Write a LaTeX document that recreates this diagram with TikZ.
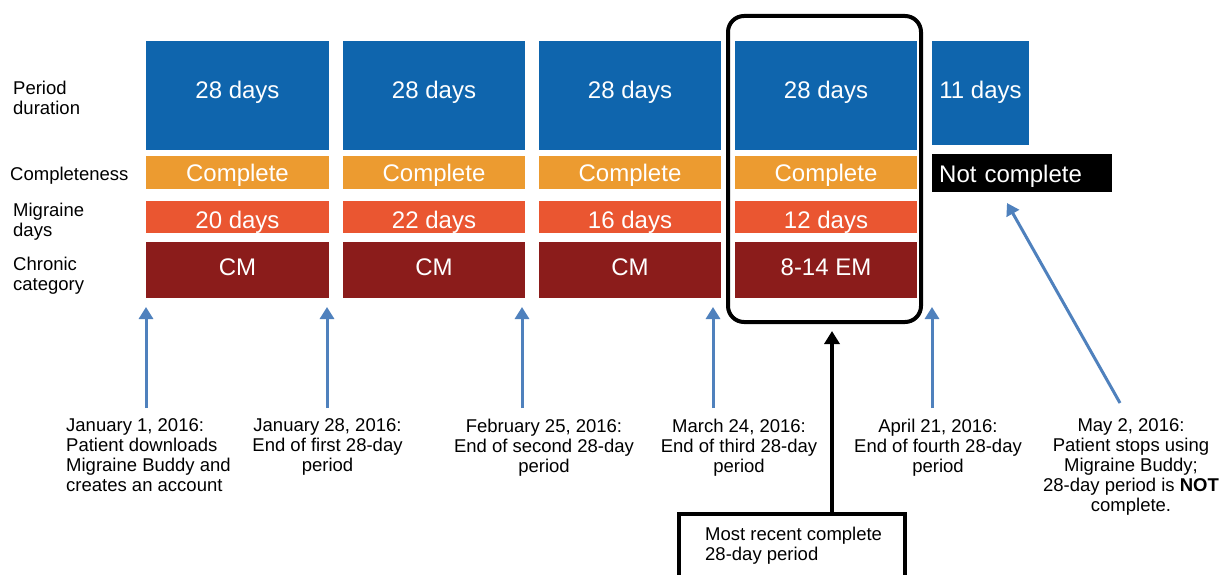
\documentclass[tikz,border=0pt]{standalone}
\usepackage{fontspec}
\setmainfont{Liberation Sans}
\usetikzlibrary{arrows.meta}
\definecolor{pblue}{RGB}{15,101,173}
\definecolor{porange}{RGB}{236,155,48}
\definecolor{pred}{RGB}{234,86,49}
\definecolor{pmaroon}{RGB}{139,28,27}
\definecolor{parrow}{RGB}{79,129,189}
\begin{document}
\begin{tikzpicture}[x=1pt,y=-1pt,
  blk/.style={inner sep=0pt, text=white, font=\fontsize{24}{26}\selectfont, text height=17pt, text depth=5pt},
  bluerow/.style={blk, fill=pblue, minimum height=109pt, text height=17pt, text depth=10pt},
  orangerow/.style={blk, fill=porange, minimum height=33pt, text height=20pt, text depth=1.6pt},
  redrow/.style={blk, fill=pred, minimum height=32pt, text height=22pt, text depth=0pt},
  maroonrow/.style={blk, fill=pmaroon, minimum height=56pt, text height=17pt, text depth=7pt},
  lbl/.style={inner sep=0pt, font=\fontsize{18.5}{20}\selectfont, align=left},
  note/.style={inner sep=0pt, font=\fontsize{18.5}{20}\selectfont, align=center, anchor=north},
  barrow/.style={draw=parrow, line width=3pt, -{Triangle[length=12pt,width=14pt]}},
  karrow/.style={draw=black, line width=3.5pt, -{Triangle[length=13pt,width=15pt]}}
]
\clip (0,0) rectangle (1220,575);
\useasboundingbox (0,0) rectangle (1220,575);
\fill[white] (0,0) rectangle (1220,575);

% row labels
\node[lbl, anchor=north west] (lper) at (13,81) {Period\\duration};
\node[lbl, anchor=base west] (lcomp) at (10,180.7) {Completeness};
\node[lbl, anchor=north west] (lmig) at (13,202.5) {Migraine\\days};
\node[lbl, anchor=north west] (lchr) at (13,256.5) {Chronic\\category};

% period duration
\node[bluerow, minimum width=183pt] (p1) at (237.5,95.5) {28 days};
\node[bluerow, minimum width=182pt] (p2) at (434,95.5) {28 days};
\node[bluerow, minimum width=182pt] (p3) at (630,95.5) {28 days};
\node[bluerow, minimum width=182pt] (p4) at (826,95.5) {28 days};
\node[blk, fill=pblue, minimum width=97pt, minimum height=104pt] (p5) at (980.5,93) {11 days};

% completeness
\node[orangerow, minimum width=183pt] (c1) at (237.5,172.5) {Complete};
\node[orangerow, minimum width=182pt] (c2) at (434,172.5) {Complete};
\node[orangerow, minimum width=182pt] (c3) at (630,172.5) {Complete};
\node[orangerow, minimum width=182pt] (c4) at (826,172.5) {Complete};
\node[blk, fill=black, anchor=north west, minimum height=38pt, inner xsep=7pt, text width=166pt, align=left, text height=20pt, text depth=2pt] (c5) at (932,154) {Not complete};

% migraine days
\node[redrow, minimum width=183pt] (m1) at (237.5,217) {20 days};
\node[redrow, minimum width=182pt] (m2) at (434,217) {22 days};
\node[redrow, minimum width=182pt] (m3) at (630,217) {16 days};
\node[redrow, minimum width=182pt] (m4) at (826,217) {12 days};

% chronic category
\node[maroonrow, minimum width=183pt] (k1) at (237.5,270) {CM};
\node[maroonrow, minimum width=182pt] (k2) at (434,270) {CM};
\node[maroonrow, minimum width=182pt] (k3) at (630,270) {CM};
\node[maroonrow, minimum width=182pt] (k4) at (826,270) {8-14 EM};

% selection box
\node[draw, line width=4pt, rounded corners=16pt, minimum width=193pt, minimum height=306pt, inner sep=0pt] (sel) at (824.5,169) {};

% bottom notes
\node[lbl, anchor=north west] (n1) at (66,418.5) {January 1, 2016:\\Patient downloads\\Migraine Buddy and\\creates an account};
\node[note] (n2) at (327.5,418.5) {January 28, 2016:\\End of first 28-day\\period};
\node[note] (n3) at (544,418.5) {February 25, 2016:\\End of second 28-day\\period};
\node[note] (n4) at (739,418.5) {March 24, 2016:\\End of third 28-day\\period};
\node[note] (n5) at (938,418.5) {April 21, 2016:\\End of fourth 28-day\\period};
\node[note] (n6) at (1131,418.5) {May 2, 2016:\\Patient stops using\\Migraine Buddy;\\28-day period is \textbf{NOT}\\complete.};

% arrow ends
\coordinate (a1s) at (146,408); \coordinate (a1e) at (146,307);
\coordinate (a2s) at (327,408); \coordinate (a2e) at (327,307);
\coordinate (a3s) at (522,408); \coordinate (a3e) at (522,307);
\coordinate (a4s) at (713,408); \coordinate (a4e) at (713,307);
\coordinate (a5s) at (932,408); \coordinate (a5e) at (932,307);
\coordinate (a6s) at (1120,403); \coordinate (a6e) at (1007,203);
\draw[barrow] (a1s) -- (a1e);
\draw[barrow] (a2s) -- (a2e);
\draw[barrow] (a3s) -- (a3e);
\draw[barrow] (a4s) -- (a4e);
\draw[barrow] (a5s) -- (a5e);
\draw[barrow] (a6s) -- (a6e);

% most recent box
\node[draw, line width=4pt, anchor=north west, minimum width=226pt, minimum height=90pt, inner sep=0pt] (recent) at (677,512) {};
\node[lbl, anchor=north west] (recenttext) at (705,526.5) {Most recent complete\\28-day period};
\coordinate (selb) at (832,331);
\draw[karrow] (recent.north -| selb) -- (selb);
\end{tikzpicture}
\end{document}
